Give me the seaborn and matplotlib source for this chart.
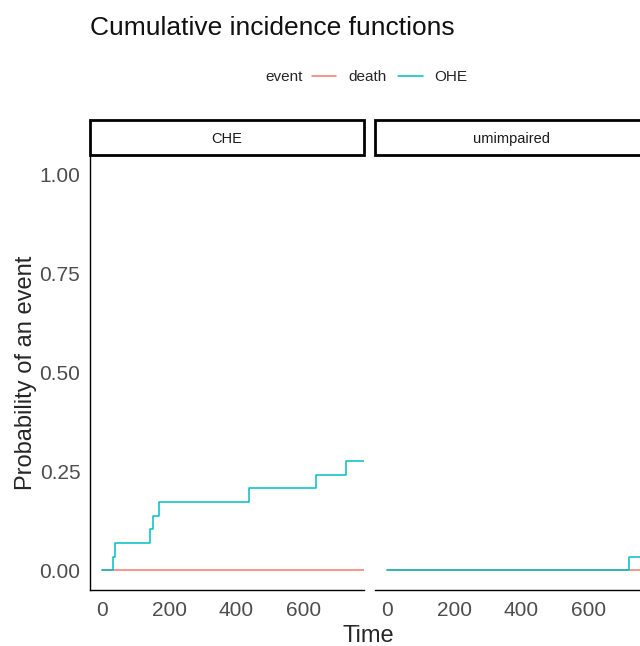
import matplotlib
matplotlib.use("Agg")
import matplotlib.pyplot as plt
from matplotlib.lines import Line2D
from matplotlib.patches import Rectangle
import seaborn as sns
import pandas as pd

# data (step functions, time vs cumulative incidence)
groups = ["CHE", "umimpaired"]
events = ["death", "OHE"]

che_death_time = [0, 782]
che_death_prob = [0.0, 0.0]
che_ohe_time = [0, 31, 38, 142, 150, 170, 439, 640, 727, 782]
che_ohe_prob = [0.0, 0.034, 0.069, 0.103, 0.138, 0.172, 0.207, 0.241, 0.276, 0.276]

unimp_death_time = [0, 782]
unimp_death_prob = [0.0, 0.0]
unimp_ohe_time = [0, 723, 782]
unimp_ohe_prob = [0.0, 0.033, 0.033]

x_ticks = [0, 200, 400, 600]
y_ticks = [0.0, 0.25, 0.50, 0.75, 1.00]
y_ticklabels = ["0.00", "0.25", "0.50", "0.75", "1.00"]

colors = {"death": "#F8766D", "OHE": "#00BFC4"}


def make_df(group, event, t, p):
    return pd.DataFrame({"time": t, "prob": p, "group": group, "event": event})


df = pd.concat([
    make_df("CHE", "death", che_death_time, che_death_prob),
    make_df("CHE", "OHE", che_ohe_time, che_ohe_prob),
    make_df("umimpaired", "death", unimp_death_time, unimp_death_prob),
    make_df("umimpaired", "OHE", unimp_ohe_time, unimp_ohe_prob),
], ignore_index=True)

sns.set_style("white")
plt.rcParams["font.family"] = ["Liberation Sans", "DejaVu Sans"]

W, H = 640, 646
fig = plt.figure(figsize=(W / 100, H / 100), dpi=100)


def px_box(x0, y0, x1, y1):
    # pixel box (top-left origin) -> figure fraction rect
    return [x0 / W, 1 - y1 / H, (x1 - x0) / W, (y1 - y0) / H]


panel_x = [(90, 364), (375, 649)]
grey = "#4D4D4D"

for i, g in enumerate(groups):
    x0, x1 = panel_x[i]
    ax = fig.add_axes(px_box(x0, 155, x1, 590))
    sub = df[df["group"] == g]
    sns.lineplot(data=sub, x="time", y="prob", hue="event", hue_order=events,
                 palette=colors, estimator=None, drawstyle="steps-post",
                 linewidth=1.1, legend=False, ax=ax)
    ax.set_xlim(-37.25, 782.25)
    ax.set_ylim(-0.05, 1.05)
    ax.set_xlabel("")
    ax.set_ylabel("")
    ax.set_xticks(x_ticks)
    ax.set_xticklabels([str(v) for v in x_ticks], fontsize=15, color=grey)
    for s in ["top", "right"]:
        ax.spines[s].set_visible(False)
    ax.spines["bottom"].set_color("black")
    ax.spines["bottom"].set_linewidth(1.0)
    ax.tick_params(axis="x", length=4, width=1.0, color="black", pad=4)
    if i == 0:
        ax.set_yticks(y_ticks)
        ax.set_yticklabels(y_ticklabels, fontsize=15, color=grey)
        ax.spines["left"].set_color("black")
        ax.spines["left"].set_linewidth(1.0)
        ax.tick_params(axis="y", length=4, width=1.0, color="black", pad=3)
    else:
        ax.set_yticks([])
        ax.spines["left"].set_visible(False)

    # facet strip
    sax = fig.add_axes(px_box(x0, 120, x1, 155))
    sax.set_xlim(0, 1)
    sax.set_ylim(0, 1)
    sax.axis("off")
    sax.add_patch(Rectangle((0, 0), 1, 1, facecolor="white", edgecolor="black",
                            linewidth=2.0, transform=sax.transAxes, clip_on=False))
    sax.text(0.5, 0.47, g, ha="center", va="center", fontsize=10.5, color="#1A1A1A")

fig.text(90 / W, 1 - 28 / H, "Cumulative incidence functions", fontsize=19,
         ha="left", va="center", color="#111111")
fig.text(368 / W, 1 - 636 / H, "Time", fontsize=17, ha="center", va="center")
fig.text(26 / W, 1 - 373 / H, "Probability of an event", fontsize=17,
         rotation=90, ha="center", va="center")

# legend: title inline on the left
fig.text(265 / W, 1 - 77 / H, "event", fontsize=11, ha="left", va="center")
handles = [Line2D([], [], color=colors[e], linewidth=1.1) for e in events]
fig.legend(handles, events, loc="center left", bbox_to_anchor=(312 / W, 1 - 77 / H),
           ncol=2, frameon=False, fontsize=11, handlelength=1.6,
           handletextpad=0.75, columnspacing=0.8, borderpad=0, borderaxespad=0)

fig.savefig("out.png", dpi=100)
